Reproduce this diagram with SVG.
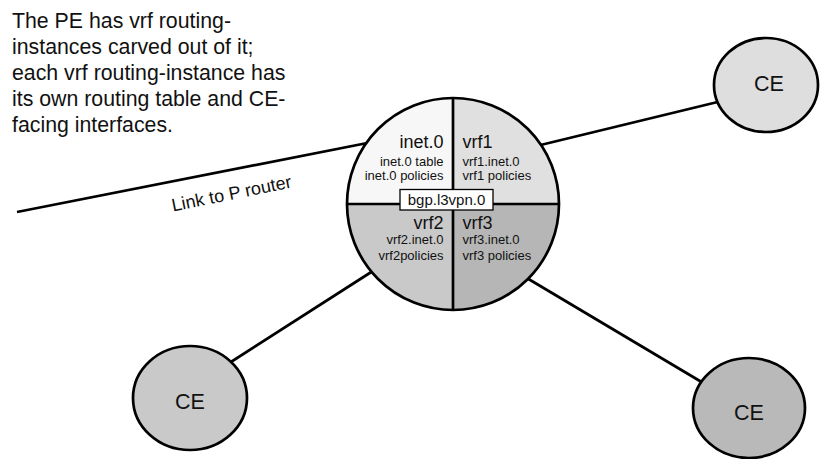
<svg xmlns="http://www.w3.org/2000/svg" width="822" height="459" viewBox="0 0 822 459">
  <style>
    text { font-family: "Liberation Sans", Arial, sans-serif; fill: #111; }
    .wire { stroke: #000; stroke-width: 2.7; fill: none; }
    .edge { stroke: #000; stroke-width: 2.7; }
    .note { font-size: 21.3px; }
    .ce { font-size: 21.5px; text-anchor: middle; }
    .title { font-size: 18px; }
    .sub { font-size: 13px; }
    .end { text-anchor: end; }
  </style>
  <defs>
    <clipPath id="pe-clip">
      <circle cx="453" cy="204" r="106"/>
    </clipPath>
  </defs>

  <!-- description -->
  <g id="note" class="note">
    <text x="12" y="28">The PE has vrf routing-</text>
    <text x="12" y="54">instances carved out of it;</text>
    <text x="12" y="80">each vrf routing-instance has</text>
    <text x="12" y="106">its own routing table and CE-</text>
    <text x="12" y="132">facing interfaces.</text>
  </g>

  <!-- links -->
  <g id="connectors">
    <line class="wire" x1="17" y1="212" x2="380" y2="140.5"/>
    <line class="wire" x1="520" y1="150" x2="730" y2="99"/>
    <line class="wire" x1="390" y1="260" x2="220" y2="369"/>
    <line class="wire" x1="510" y1="268" x2="715" y2="390"/>
    <text class="title" transform="translate(173 211.5) rotate(-11.4)">Link to P router</text>
  </g>

  <!-- PE router split into routing instances -->
  <g id="pe">
    <g clip-path="url(#pe-clip)">
      <rect x="345" y="96" width="108" height="108" fill="#f7f7f7"/>
      <rect x="453" y="96" width="108" height="108" fill="#e0e0e0"/>
      <rect x="345" y="204" width="108" height="108" fill="#c9c9c9"/>
      <rect x="453" y="204" width="108" height="108" fill="#b6b6b6"/>
      <line class="edge" x1="453" y1="96" x2="453" y2="312"/>
      <line class="edge" x1="345" y1="204" x2="561" y2="204"/>
    </g>
    <circle cx="453" cy="204" r="106" class="wire"/>

    <text class="title end" x="443.5" y="147.5">inet.0</text>
    <text class="sub end" x="443.5" y="165.5">inet.0 table</text>
    <text class="sub end" x="443.5" y="180">inet.0 policies</text>

    <text class="title" x="462.5" y="147.5">vrf1</text>
    <text class="sub" x="462.5" y="165.5">vrf1.inet.0</text>
    <text class="sub" x="462.5" y="180">vrf1 policies</text>

    <text class="title end" x="443.5" y="228.5">vrf2</text>
    <text class="sub end" x="443.5" y="244">vrf2.inet.0</text>
    <text class="sub end" x="443.5" y="259.5">vrf2policies</text>

    <text class="title" x="462.5" y="228.5">vrf3</text>
    <text class="sub" x="462.5" y="244">vrf3.inet.0</text>
    <text class="sub" x="462.5" y="259.5">vrf3 policies</text>

    <rect x="400" y="189.5" width="93" height="20.5" fill="#fff" stroke="#000" stroke-width="1.3"/>
    <text x="446.5" y="204.5" font-size="15" text-anchor="middle">bgp.l3vpn.0</text>
  </g>

  <!-- customer edge routers -->
  <g id="ce-top-right">
    <ellipse cx="766" cy="85" rx="52" ry="47" fill="#dedede" class="edge"/>
    <text class="ce" x="769" y="91">CE</text>
  </g>
  <g id="ce-bottom-left">
    <ellipse cx="190" cy="398" rx="57" ry="52" fill="#c9c9c9" class="edge"/>
    <text class="ce" x="190" y="409">CE</text>
  </g>
  <g id="ce-bottom-right">
    <ellipse cx="749" cy="408" rx="56" ry="50" fill="#b9b9b9" class="edge"/>
    <text class="ce" x="749" y="420">CE</text>
  </g>
</svg>
